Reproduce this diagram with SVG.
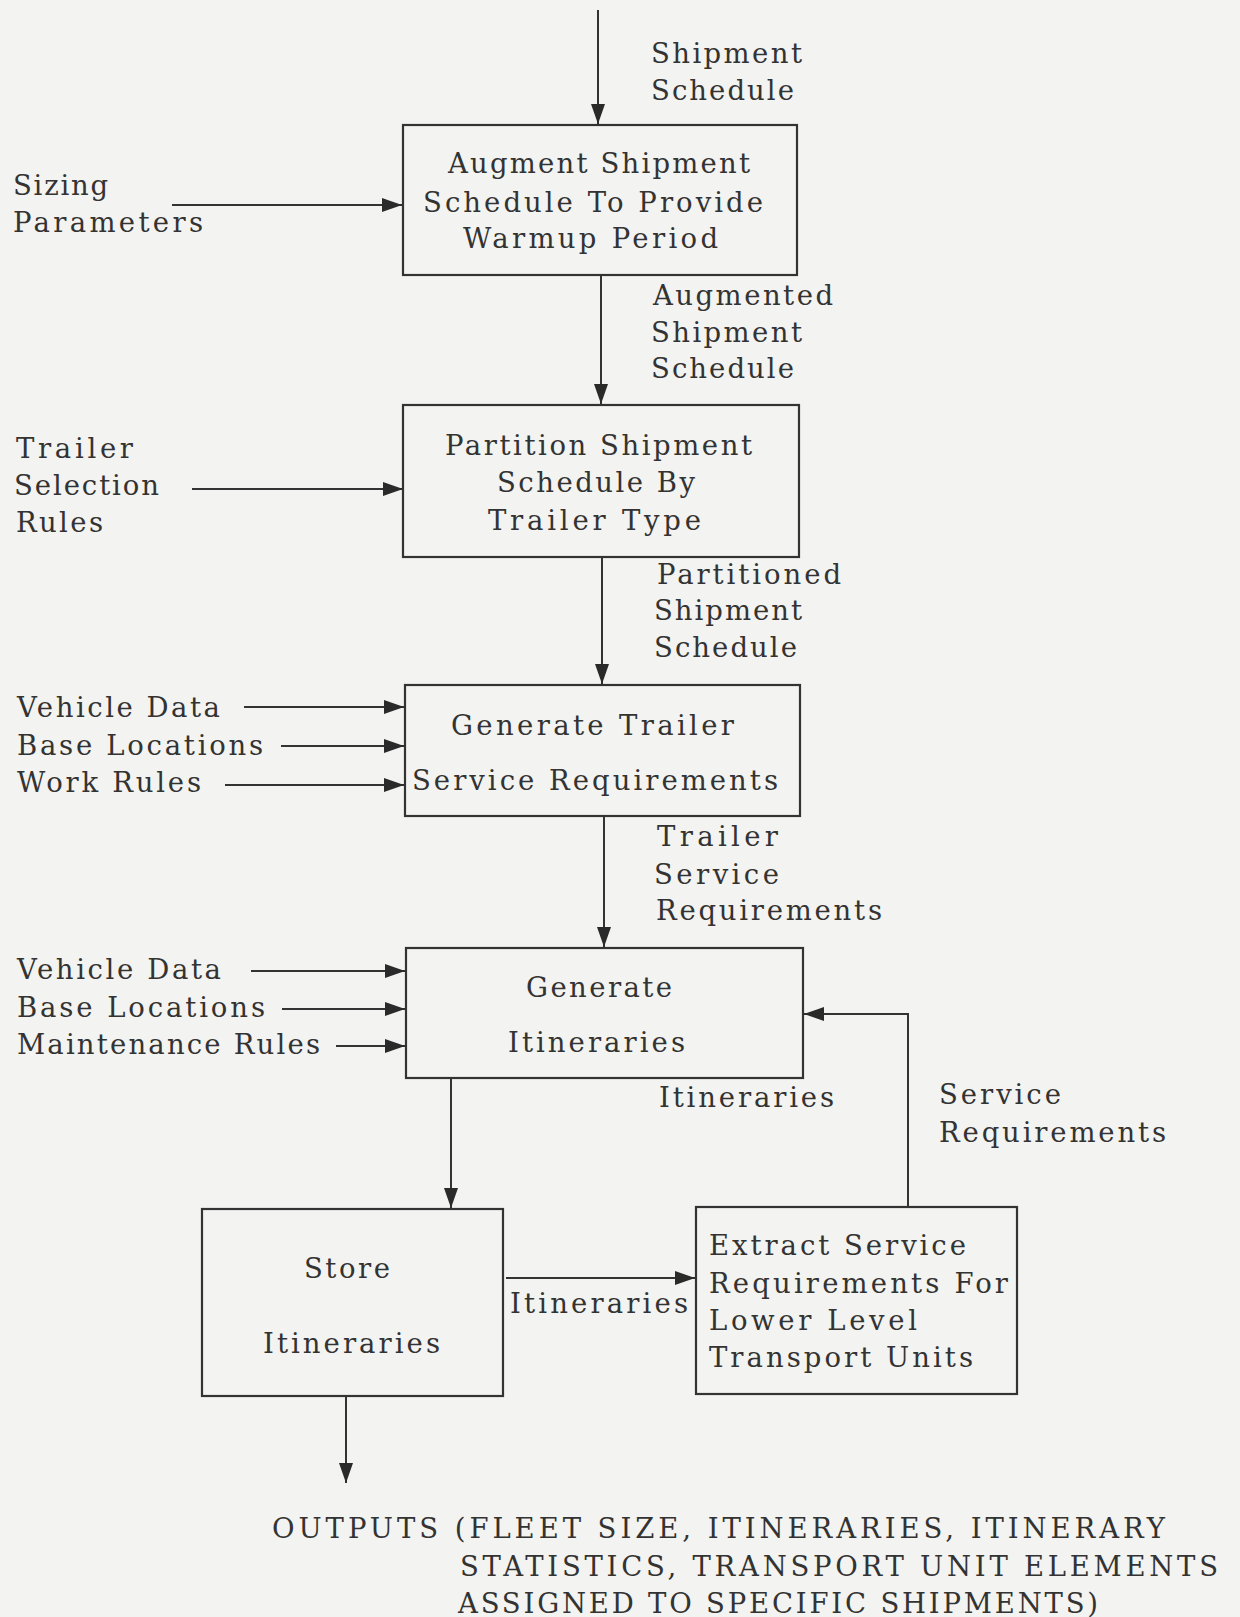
<svg xmlns="http://www.w3.org/2000/svg" width="1240" height="1617" viewBox="0 0 1240 1617">
<style>
text{font-family:"DejaVu Serif","Liberation Serif",serif;font-size:27.5px;fill:#333}
.box{fill:none;stroke:#333;stroke-width:2.2}
.c{fill:none;stroke:#333;stroke-width:2}
</style>
<defs>
<marker id="ah" markerUnits="userSpaceOnUse" markerWidth="22" markerHeight="14" refX="20" refY="7" orient="auto">
<path d="M0,0 L20,7 L0,14 z" fill="#2a2a2a"/>
</marker>
</defs>
<rect width="1240" height="1617" fill="#f3f3f1"/>
<g id="connectors">
<line class="c" x1="598" y1="10" x2="598" y2="124" marker-end="url(#ah)"/>
<line class="c" x1="172" y1="205" x2="402" y2="205" marker-end="url(#ah)"/>
<line class="c" x1="601" y1="276" x2="601" y2="404" marker-end="url(#ah)"/>
<line class="c" x1="192" y1="489" x2="403" y2="489" marker-end="url(#ah)"/>
<line class="c" x1="602" y1="557" x2="602" y2="684" marker-end="url(#ah)"/>
<line class="c" x1="244" y1="707" x2="404" y2="707" marker-end="url(#ah)"/>
<line class="c" x1="281" y1="746" x2="404" y2="746" marker-end="url(#ah)"/>
<line class="c" x1="225" y1="785" x2="404" y2="785" marker-end="url(#ah)"/>
<line class="c" x1="604" y1="816" x2="604" y2="947" marker-end="url(#ah)"/>
<line class="c" x1="251" y1="971" x2="405" y2="971" marker-end="url(#ah)"/>
<line class="c" x1="282" y1="1009" x2="405" y2="1009" marker-end="url(#ah)"/>
<line class="c" x1="336" y1="1046" x2="405" y2="1046" marker-end="url(#ah)"/>
<polyline class="c" points="908,1207 908,1014 804,1014" marker-end="url(#ah)"/>
<line class="c" x1="451" y1="1078" x2="451" y2="1208" marker-end="url(#ah)"/>
<line class="c" x1="506" y1="1278" x2="695" y2="1278" marker-end="url(#ah)"/>
<line class="c" x1="346" y1="1396" x2="346" y2="1483" marker-end="url(#ah)"/>
</g>
<g id="labels">
<text x="651" y="63" textLength="151">Shipment</text>
<text x="651" y="100" textLength="143">Schedule</text>
<text x="13" y="195" textLength="95">Sizing</text>
<text x="13" y="232" textLength="190">Parameters</text>
<text x="653" y="305" textLength="180">Augmented</text>
<text x="651" y="342" textLength="151">Shipment</text>
<text x="651" y="378" textLength="143">Schedule</text>
<text x="16" y="458" textLength="117">Trailer</text>
<text x="14" y="495" textLength="145">Selection</text>
<text x="16" y="532" textLength="87">Rules</text>
<text x="657" y="584" textLength="184">Partitioned</text>
<text x="654" y="620" textLength="148">Shipment</text>
<text x="654" y="657" textLength="143">Schedule</text>
<text x="17" y="717" textLength="203">Vehicle Data</text>
<text x="17" y="755" textLength="246">Base Locations</text>
<text x="17" y="792" textLength="184">Work Rules</text>
<text x="657" y="846" textLength="121">Trailer</text>
<text x="654" y="884" textLength="125">Service</text>
<text x="656" y="920" textLength="226">Requirements</text>
<text x="17" y="979" textLength="204">Vehicle Data</text>
<text x="17" y="1017" textLength="248">Base Locations</text>
<text x="17" y="1054" textLength="303">Maintenance Rules</text>
<text x="659" y="1107" textLength="175">Itineraries</text>
<text x="939" y="1104" textLength="122">Service</text>
<text x="939" y="1142" textLength="227">Requirements</text>
<text x="510" y="1313" textLength="178">Itineraries</text>
<text x="272" y="1538" textLength="893">OUTPUTS (FLEET SIZE, ITINERARIES, ITINERARY</text>
<text x="460" y="1576" textLength="758">STATISTICS, TRANSPORT UNIT ELEMENTS</text>
<text x="458" y="1613" textLength="640">ASSIGNED TO SPECIFIC SHIPMENTS)</text>
</g>
<g id="node-augment">
<rect class="box" x="403" y="125" width="394" height="150"/>
<text x="448" y="173" textLength="302">Augment Shipment</text>
<text x="423" y="212" textLength="340">Schedule To Provide</text>
<text x="463" y="248" textLength="255">Warmup Period</text>
</g>
<g id="node-partition">
<rect class="box" x="403" y="405" width="396" height="152"/>
<text x="445" y="455" textLength="307">Partition Shipment</text>
<text x="497" y="492" textLength="198">Schedule By</text>
<text x="488" y="530" textLength="213">Trailer Type</text>
</g>
<g id="node-trailer-service">
<rect class="box" x="405" y="685" width="395" height="131"/>
<text x="451" y="735" textLength="283">Generate Trailer</text>
<text x="412" y="790" textLength="366">Service Requirements</text>
</g>
<g id="node-generate-itineraries">
<rect class="box" x="406" y="948" width="397" height="130"/>
<text x="526" y="997" textLength="146">Generate</text>
<text x="508" y="1052" textLength="177">Itineraries</text>
</g>
<g id="node-store">
<rect class="box" x="202" y="1209" width="301" height="187"/>
<text x="304" y="1278" textLength="86">Store</text>
<text x="263" y="1353" textLength="177">Itineraries</text>
</g>
<g id="node-extract">
<rect class="box" x="696" y="1207" width="321" height="187"/>
<text x="709" y="1255" textLength="257">Extract Service</text>
<text x="709" y="1293" textLength="299">Requirements For</text>
<text x="709" y="1330" textLength="208">Lower Level</text>
<text x="709" y="1367" textLength="264">Transport Units</text>
</g>
</svg>
